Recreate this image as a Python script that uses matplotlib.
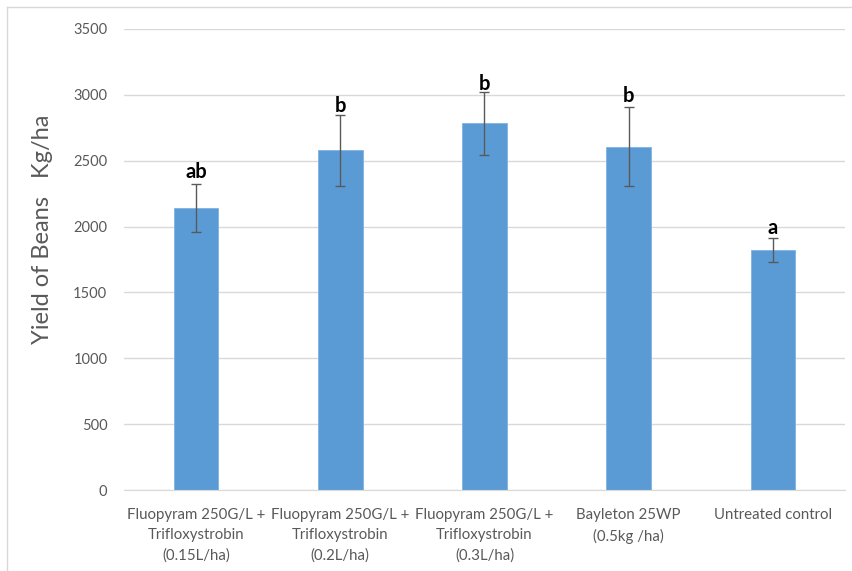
import numpy as np
import matplotlib
matplotlib.use("Agg")
import matplotlib.pyplot as plt
from matplotlib.lines import Line2D

# Tratamientos y rendimiento medio (kg/ha) con su error
tratamientos = [
    "Fluopyram 250G/L +\nTrifloxystrobin\n(0.15L/ha)",
    "Fluopyram 250G/L +\nTrifloxystrobin\n(0.2L/ha)",
    "Fluopyram 250G/L +\nTrifloxystrobin\n(0.3L/ha)",
    "Bayleton 25WP\n(0.5kg /ha)",
    "Untreated control",
]
rendimiento = [2140, 2580, 2785, 2605, 1820]
error = [183, 270, 238, 300, 90]
letras = ["ab", "b", "b", "b", "a"]
pos_letras = [2414, 2915, 3082, 2991, 1989]

plt.rcParams['font.family'] = ['Lato', 'DejaVu Sans']
gris = '#595959'

fig = plt.figure(figsize=(8.53, 5.71), dpi=100)
ax = fig.add_axes([124 / 853, 1 - 490 / 571, 721 / 853, 461 / 571])

x = np.arange(len(tratamientos))
ax.bar(x, rendimiento, width=0.31, color='#5B9BD5', edgecolor='#7FB2E0',
       linewidth=0.6, zorder=2)
ax.errorbar(x, rendimiento, yerr=error, fmt='none', ecolor=gris,
            elinewidth=1, capsize=3.5, capthick=1, zorder=3)

for xi, letra, yl in zip(x, letras, pos_letras):
    ax.text(xi, yl, letra, ha='center', va='center', fontsize=14.5,
            fontweight='bold', color='black', zorder=4)

ax.set_xlim(-0.5, len(tratamientos) - 0.5)
ax.set_ylim(0, 3500)
ax.set_yticks(range(0, 3501, 500))
ax.set_xticks(x)
ax.set_xticklabels(tratamientos, fontsize=10.8, color=gris, linespacing=1.55)
ax.tick_params(axis='y', labelsize=10.5, labelcolor=gris, length=0, pad=12)
ax.tick_params(axis='x', length=0, pad=13)

ax.grid(axis='y', color='#d9d9d9', linewidth=1, zorder=0)
ax.set_axisbelow(True)
for lado in ['top', 'right', 'left']:
    ax.spines[lado].set_visible(False)
ax.spines['bottom'].set_color('#d9d9d9')

ax.set_ylabel('Yield of Beans   Kg/ha', fontsize=17, color=gris)
ax.yaxis.set_label_coords(-0.099, 0.565)

# Marco del gráfico
fig.add_artist(Line2D([7 / 853, 7 / 853], [0, 1 - 7 / 571], transform=fig.transFigure,
                      color='#d9d9d9', linewidth=1))
fig.add_artist(Line2D([7 / 853, 1], [1 - 7 / 571, 1 - 7 / 571], transform=fig.transFigure,
                      color='#d9d9d9', linewidth=1))

fig.savefig("out.png", dpi=100)
